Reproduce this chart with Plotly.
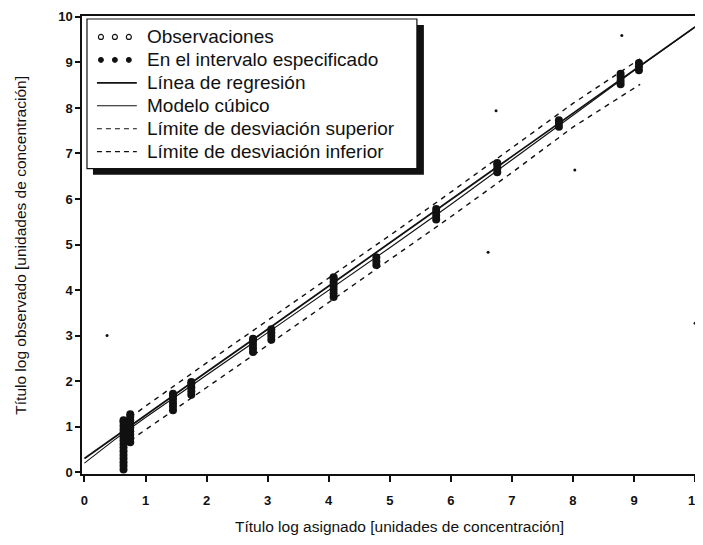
import plotly.graph_objects as go

# ---------------- data ----------------
# fitted lines
fit_x = [0, 0.5, 1, 2, 3, 4, 5, 6, 7, 8, 9, 10]
regression_y = [0.30, 0.77, 1.25, 2.20, 3.14, 4.09, 5.04, 5.99, 6.94, 7.88, 8.83, 9.78]
cubic_y = [0.20, 0.72, 1.20, 2.13, 3.06, 4.00, 4.93, 5.88, 6.85, 7.84, 8.82, 9.78]

limit_x = [0.75, 1, 2, 3, 4, 5, 6, 7, 8, 9.1]
upper_limit_y = [1.20, 1.45, 2.40, 3.33, 4.27, 5.20, 6.15, 7.12, 8.10, 9.08]
lower_limit_y = [0.70, 0.93, 1.86, 2.79, 3.73, 4.66, 5.61, 6.58, 7.58, 8.52]

# observations inside the specified interval (clusters)
cluster_x = [0.64, 0.75, 1.45, 1.75, 2.76, 3.06, 4.08, 4.78, 5.76, 6.76, 7.77, 8.78, 9.08]
cluster_y = [
    [0.06, 0.14, 0.22, 0.30, 0.38, 0.46, 0.54, 0.62, 0.70, 0.78, 0.86, 0.94, 1.02, 1.10, 1.14],
    [0.66, 0.74, 0.82, 0.90, 0.98, 1.06, 1.14, 1.22, 1.27],
    [1.36, 1.44, 1.52, 1.60, 1.68, 1.72],
    [1.70, 1.78, 1.86, 1.94, 1.98],
    [2.64, 2.72, 2.80, 2.88, 2.93],
    [2.91, 2.99, 3.07, 3.14],
    [3.85, 3.93, 4.01, 4.09, 4.17, 4.25, 4.28],
    [4.55, 4.63, 4.72],
    [5.55, 5.63, 5.71, 5.78],
    [6.59, 6.67, 6.75, 6.79],
    [7.59, 7.67, 7.73],
    [8.52, 8.60, 8.68, 8.75],
    [8.83, 8.91, 8.99],
]

# isolated observations
obs_x = [0.37, 6.61, 6.74, 8.03, 8.80, 10.0]
obs_y = [3.00, 4.83, 7.94, 6.64, 9.59, 3.27]

x_ticks = [0, 1, 2, 3, 4, 5, 6, 7, 8, 9, 10]
y_ticks = [0, 1, 2, 3, 4, 5, 6, 7, 8, 9, 10]

legend_labels = [
    "Observaciones",
    "En el intervalo especificado",
    "Línea de regresión",
    "Modelo cúbico",
    "Límite de desviación superior",
    "Límite de desviación inferior",
]

x_title = "Título log asignado [unidades de concentración]"
y_title = "Título log observado [unidades de concentración]"

# ---------------- figure ----------------
# the page body has an 8px default margin, so the figure starts at (8, 8)
OFF = 8
SW, SH = 703, 545                 # screen size
PL, PR, PT, PB = 82, 702, 15, 474  # plot area on screen
W, H = SW - OFF, SH - OFF
ML, MR, MT, MB = PL - OFF, SW - PR, PT - OFF, SH - PB
PW, PH = PR - PL, PB - PT


def px(x):
    return (x - PL) / PW


def py(y):
    return (PB - y) / PH


FONT = "Liberation Sans, Arial, sans-serif"
INK = "#111111"

flat_x, flat_y = [], []
for cx, ys in zip(cluster_x, cluster_y):
    for yv in ys:
        flat_x.append(cx)
        flat_y.append(yv)

fig = go.Figure()

fig.add_trace(go.Scatter(x=limit_x, y=upper_limit_y, mode="lines",
                         line=dict(color=INK, width=1.4, dash="5px,5px"), showlegend=False))
fig.add_trace(go.Scatter(x=limit_x, y=lower_limit_y, mode="lines",
                         line=dict(color=INK, width=1.4, dash="5px,5px"), showlegend=False))
fig.add_trace(go.Scatter(x=fit_x, y=regression_y, mode="lines",
                         line=dict(color=INK, width=1.8), showlegend=False))
fig.add_trace(go.Scatter(x=fit_x, y=cubic_y, mode="lines",
                         line=dict(color=INK, width=1.1), showlegend=False))
fig.add_trace(go.Scatter(x=flat_x, y=flat_y, mode="markers",
                         marker=dict(color=INK, size=8, line=dict(width=0)), showlegend=False))
fig.add_trace(go.Scatter(x=obs_x, y=obs_y, mode="markers",
                         marker=dict(color=INK, size=3, symbol="circle"), showlegend=False))

shapes = []
# legend shadow + box
shapes.append(dict(type="rect", xref="paper", yref="paper",
                   x0=px(93), x1=px(425), y0=py(174), y1=py(24),
                   fillcolor=INK, line=dict(width=0), layer="above"))
shapes.append(dict(type="rect", xref="paper", yref="paper",
                   x0=px(87), x1=px(418), y0=py(168), y1=py(18),
                   fillcolor="white", line=dict(color=INK, width=1.2), layer="above"))

row_y = [36, 59, 82, 105, 128, 151]
annotations = []
for lbl, ry in zip(legend_labels, row_y):
    annotations.append(dict(xref="paper", yref="paper", x=px(145), y=py(ry),
                            text=lbl, showarrow=False, xanchor="left", yanchor="middle",
                            font=dict(family=FONT, size=19, color=INK)))

# legend symbols
for cxp in [101, 115, 129]:
    shapes.append(dict(type="circle", xref="paper", yref="paper",
                       x0=px(cxp - 2.5), x1=px(cxp + 2.5), y0=py(row_y[0] + 2.5), y1=py(row_y[0] - 2.5),
                       line=dict(color=INK, width=1.2), fillcolor="white", layer="above"))
    shapes.append(dict(type="circle", xref="paper", yref="paper",
                       x0=px(cxp - 2.5), x1=px(cxp + 2.5), y0=py(row_y[1] + 2.5), y1=py(row_y[1] - 2.5),
                       line=dict(color=INK, width=1), fillcolor=INK, layer="above"))
shapes.append(dict(type="line", xref="paper", yref="paper", x0=px(97), x1=px(137),
                   y0=py(row_y[2]), y1=py(row_y[2]), line=dict(color=INK, width=1.8), layer="above"))
shapes.append(dict(type="line", xref="paper", yref="paper", x0=px(97), x1=px(137),
                   y0=py(row_y[3]), y1=py(row_y[3]), line=dict(color=INK, width=1.1), layer="above"))
for ry in row_y[4:]:
    shapes.append(dict(type="line", xref="paper", yref="paper", x0=px(97), x1=px(137),
                       y0=py(ry), y1=py(ry), line=dict(color=INK, width=1.2, dash="5px,4px"),
                       layer="above"))

# axis titles
annotations.append(dict(xref="paper", yref="paper", x=px(401), y=py(527), text=x_title,
                        showarrow=False, xanchor="center", yanchor="middle",
                        font=dict(family=FONT, size=15.5, color=INK)))
annotations.append(dict(xref="paper", yref="paper", x=px(20), y=py(245), text=y_title,
                        showarrow=False, xanchor="center", yanchor="middle", textangle=-90,
                        font=dict(family=FONT, size=15.5, color=INK)))

fig.update_layout(
    width=W, height=H,
    margin=dict(l=ML, r=MR, t=MT, b=MB, pad=0),
    paper_bgcolor="white", plot_bgcolor="white",
    showlegend=False,
    shapes=shapes, annotations=annotations,
    font=dict(family=FONT, color=INK),
)
fig.update_xaxes(range=[-0.04, 10.08], tickvals=x_ticks, ticktext=[str(v) for v in x_ticks],
                 showgrid=False, zeroline=False, showline=True, linecolor=INK, linewidth=1.5,
                 mirror=True, ticks="outside", ticklen=6, tickwidth=1.5, tickcolor=INK,
                 ticklabelstandoff=8,
                 tickfont=dict(family=FONT, size=13, color=INK, weight="bold"))
fig.update_yaxes(range=[-0.04, 10.02], tickvals=y_ticks, ticktext=[str(v) for v in y_ticks],
                 showgrid=False, zeroline=False, showline=True, linecolor=INK, linewidth=1.5,
                 mirror=True, ticks="outside", ticklen=5, tickwidth=1.5, tickcolor=INK,
                 tickfont=dict(family=FONT, size=13, color=INK, weight="bold"))

fig.write_html("out.html")
